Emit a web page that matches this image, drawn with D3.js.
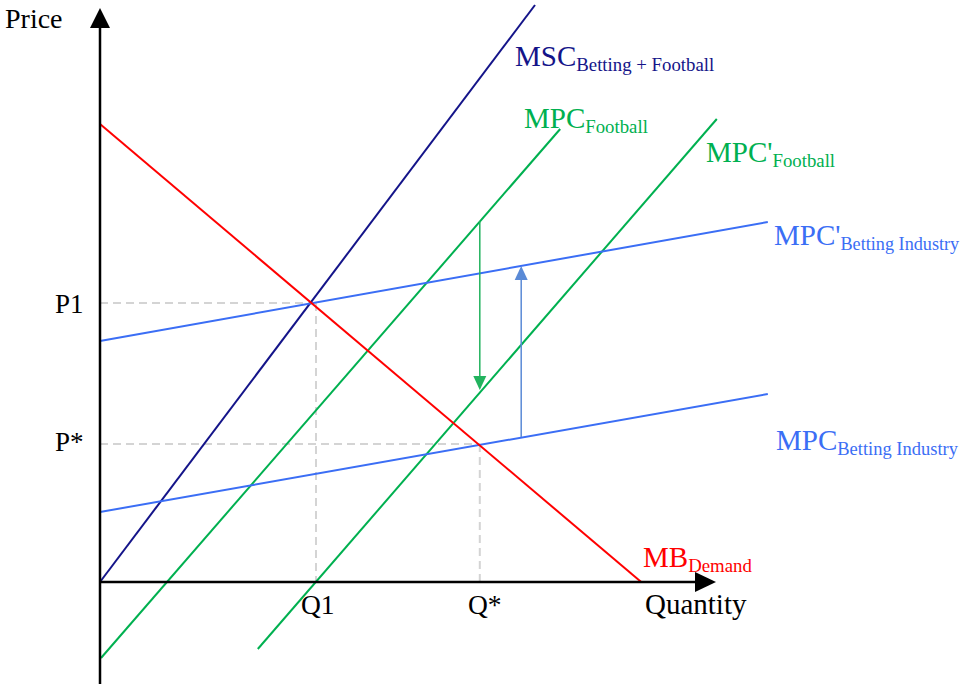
<!DOCTYPE html>
<html><head><meta charset="utf-8">
<script src="https://cdn.jsdelivr.net/npm/d3@7"></script>
<style>html,body{margin:0;padding:0;background:#fff;}svg{display:block;font-family:"Liberation Serif","Times New Roman",serif;}</style>
</head><body>
<script>
// ---- data (economic units: quantity 0..100, price 0..100) ----
const curveNames = ["MSC", "MPC_Football", "MPCp_Football", "MPCp_Betting", "MPC_Betting", "MB_Demand"];
const curveStartQ = [0, 0.17, 26.3, 0, 0, 0];
const curveStartP = [0, -15.2, -13.4, 48.2, 14, 91.6];
const curveEndQ   = [72.5, 76.7, 102.8, 111.3, 111.3, 90.2];
const curveEndP   = [115.4, 90.6, 92.6, 72, 37.6, 0];
const priceTickLabels = ["P1", "P*"];
const priceTickValues = [55.8, 27.6];
const qtyTickLabels = ["Q1", "Q*"];
const qtyTickValues = [36, 63.3];
const shiftArrowQ = [63.3, 70.2];
const shiftArrowFromP = [72.2, 29];
const shiftArrowToP = [38.4, 63.2];

// ---- styles ----
const colors = {MSC:"#141489", MPC_Football:"#00b050", MPCp_Football:"#00b050",
  MPCp_Betting:"#3b6ef5", MPC_Betting:"#3b6ef5", MB_Demand:"#ff0000"};
const arrowColors = ["#22b35e", "#5a8ad6"];

const W = 963, H = 684;
const svg = d3.select("body").append("svg").attr("width", W).attr("height", H);
const x = d3.scaleLinear().domain([0, 100]).range([100, 700]);
const y = d3.scaleLinear().domain([0, 100]).range([582, 82]);

// dashed guides
priceTickValues.forEach((p, i) => {
  const q = qtyTickValues[i];
  svg.append("line").attr("x1", x(0)).attr("x2", x(q)).attr("y1", y(p)).attr("y2", y(p))
    .attr("stroke", "#d4d4d4").attr("stroke-width", 2).attr("stroke-dasharray", "8,5");
  svg.append("line").attr("x1", x(q)).attr("x2", x(q)).attr("y1", y(p)).attr("y2", y(0))
    .attr("stroke", "#d4d4d4").attr("stroke-width", 2).attr("stroke-dasharray", "8,5");
});

// curves
const lineGen = d3.line().x(d => x(d[0])).y(d => y(d[1]));
curveNames.forEach((n, i) => {
  svg.append("path")
    .attr("d", lineGen([[curveStartQ[i], curveStartP[i]], [curveEndQ[i], curveEndP[i]]]))
    .attr("stroke", colors[n]).attr("stroke-width", 2).attr("fill", "none");
});

// axes
svg.append("line").attr("x1", x(0)).attr("x2", x(0)).attr("y1", H).attr("y2", 26)
  .attr("stroke", "#000").attr("stroke-width", 2.5);
svg.append("path").attr("d", `M${x(0)},8 L${x(0)-10},28 L${x(0)+10},28 Z`).attr("fill", "#000");
svg.append("line").attr("x1", x(0)).attr("x2", 697).attr("y1", y(0)).attr("y2", y(0))
  .attr("stroke", "#000").attr("stroke-width", 2.5);
svg.append("path").attr("d", `M716,${y(0)} L695,${y(0)-10} L695,${y(0)+10} Z`).attr("fill", "#000");

// shift arrows
shiftArrowQ.forEach((q, i) => {
  const x0 = x(q), y0 = y(shiftArrowFromP[i]), y1 = y(shiftArrowToP[i]);
  const dir = y1 > y0 ? 1 : -1;
  const hl = 14, hw = 6.5;
  svg.append("line").attr("x1", x0).attr("x2", x0).attr("y1", y0).attr("y2", y1 - dir * hl)
    .attr("stroke", arrowColors[i]).attr("stroke-width", 1.5);
  svg.append("path").attr("d", `M${x0},${y1} L${x0-hw},${y1-dir*hl} L${x0+hw},${y1-dir*hl} Z`)
    .attr("fill", arrowColors[i]);
});

// axis titles and tick labels
const txt = (s, px, py, size, color) => svg.append("text").attr("x", px).attr("y", py)
  .attr("font-size", size).attr("fill", color || "#000").text(s);
txt("Price", 5, 28, 28);
txt("Quantity", 645, 614, 29);
const pLabelY = [313, 451];
priceTickLabels.forEach((s, i) => txt(s, 55, pLabelY[i], 27));
const qLabelX = [301, 468];
qtyTickLabels.forEach((s, i) => txt(s, qLabelX[i], 614, 27.5));

// curve labels with subscripts
const curveLabels = [
  {main:"MSC", sub:"Betting + Football", px:515, py:66, c:colors.MSC, ss:18.8},
  {main:"MPC", sub:"Football", px:524, py:128, c:colors.MPC_Football, ss:18.8},
  {main:"MPC'", sub:"Football", px:706, py:162, c:colors.MPCp_Football, ss:18.8},
  {main:"MPC'", sub:"Betting Industry", px:774, py:245, c:colors.MPCp_Betting, ss:18.2},
  {main:"MPC", sub:"Betting Industry", px:776, py:450, c:colors.MPC_Betting, ss:18.5},
  {main:"MB", sub:"Demand", px:643, py:567, c:colors.MB_Demand, ss:18.8}
];
curveLabels.forEach(l => {
  const t = svg.append("text").attr("x", l.px).attr("y", l.py).attr("fill", l.c).attr("font-size", 29);
  t.append("tspan").text(l.main);
  t.append("tspan").attr("font-size", l.ss).attr("dy", 4.5).text(l.sub);
});
</script>
</body></html>
